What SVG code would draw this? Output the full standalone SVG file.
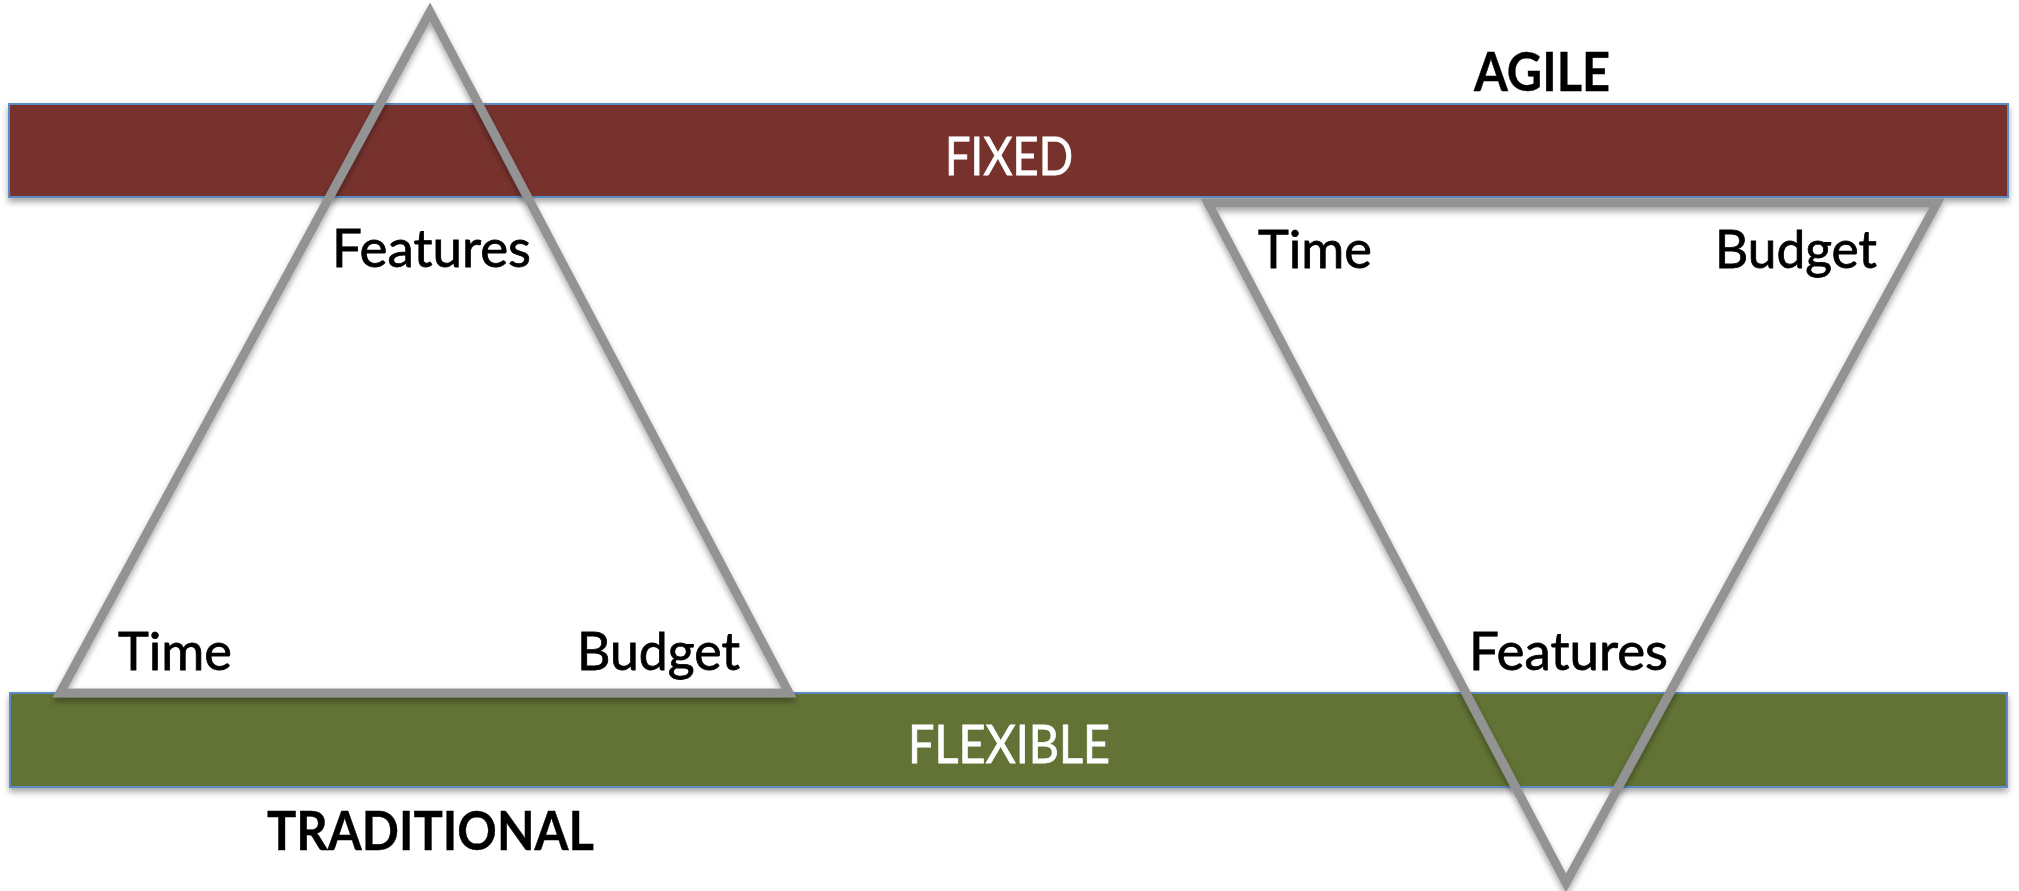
<svg xmlns="http://www.w3.org/2000/svg" width="2019" height="891" viewBox="0 0 2019 891">
<defs>
<filter id="sh" x="-5%" y="-20%" width="110%" height="150%">
<feDropShadow dx="0" dy="4" stdDeviation="3" flood-color="#000" flood-opacity="0.35"/>
</filter>
<style>
.bar{stroke:#5B8BC5;stroke-width:2}
.tri{fill:none;stroke:#939393;stroke-width:9;stroke-linejoin:miter}
.lbl{font-family:Lato,"Open Sans","Liberation Sans",sans-serif;font-size:53px;fill:#000;stroke:#000;stroke-width:0.8}
.w{fill:#fff;stroke:#fff}
.b{font-weight:bold;stroke-width:0.4}
</style>
</defs>
<rect width="2019" height="891" fill="#fff"/>
<g id="fixed">
<rect class="bar" x="9" y="104" width="1999" height="93" fill="#77332D" filter="url(#sh)"/>
<text class="lbl w" x="945" y="175" textLength="128" lengthAdjust="spacingAndGlyphs">FIXED</text>
</g>
<g id="flexible">
<rect class="bar" x="10" y="693" width="1997" height="94" fill="#627334" filter="url(#sh)"/>
<text class="lbl w" x="908" y="763" textLength="202" lengthAdjust="spacingAndGlyphs">FLEXIBLE</text>
</g>
<g id="agile">
<text class="lbl b" x="1474" y="91" font-size="51" textLength="136" lengthAdjust="spacingAndGlyphs">AGILE</text>
</g>
<g id="traditional">
<text class="lbl b" x="267" y="850" font-size="51" textLength="327" lengthAdjust="spacingAndGlyphs">TRADITIONAL</text>
</g>
<g id="traditional-triangle">
<polygon class="tri" points="430,12 60,693 789,693" filter="url(#sh)"/>
<text class="lbl" x="332" y="267" textLength="199" lengthAdjust="spacingAndGlyphs">Features</text>
<text class="lbl" x="118" y="670" textLength="114" lengthAdjust="spacingAndGlyphs">Time</text>
<text class="lbl" x="577" y="670" textLength="163" lengthAdjust="spacingAndGlyphs">Budget</text>
</g>
<g id="agile-triangle">
<polygon class="tri" points="1208,203 1937,203 1566,883" filter="url(#sh)"/>
<text class="lbl" x="1258" y="268" textLength="114" lengthAdjust="spacingAndGlyphs">Time</text>
<text class="lbl" x="1715" y="268" textLength="162" lengthAdjust="spacingAndGlyphs">Budget</text>
<text class="lbl" x="1469" y="670" textLength="199" lengthAdjust="spacingAndGlyphs">Features</text>
</g>
<g id="connectors"/>
</svg>
